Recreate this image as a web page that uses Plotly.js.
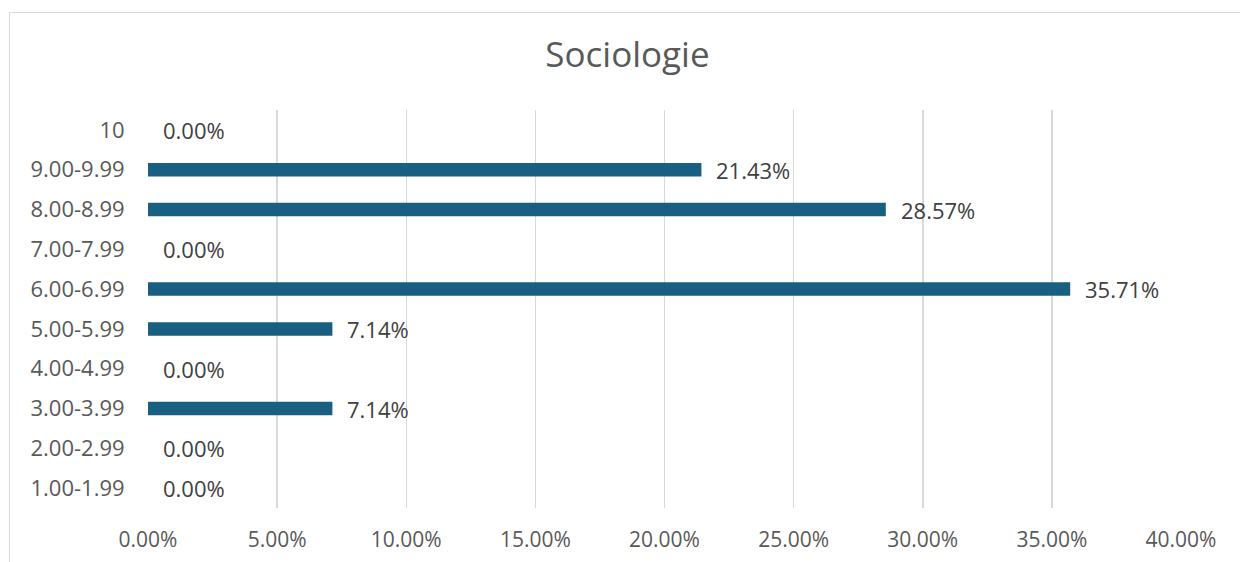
<!DOCTYPE html>
<html>
<head>
<meta charset="utf-8">
<script src="https://cdn.plot.ly/plotly-3.0.1.min.js"></script>
<style>
  html, body { margin: 0; padding: 0; background: #ffffff; }
  #wrap { position: relative; width: 1240px; height: 562px; overflow: hidden; }
  #chart { position: absolute; left: 0; top: 0; width: 1240px; height: 562px; }
  #frame { position: absolute; left: 9px; top: 12px; width: 1260px; height: 600px;
           border: 1px solid #d9d9d9; pointer-events: none; }
</style>
</head>
<body>
<div id="wrap">
  <div id="chart"></div>
  <div id="frame"></div>
</div>
<script>
// Data (bottom to top)
const categories = ["1.00-1.99", "2.00-2.99", "3.00-3.99", "4.00-4.99", "5.00-5.99",
                    "6.00-6.99", "7.00-7.99", "8.00-8.99", "9.00-9.99", "10"];
const shares = [0, 0, 0.0714, 0, 0.0714, 0.3571, 0, 0.2857, 0.2143, 0];
const titleText = "Sociologie";

const font = "'Open Sans', 'Liberation Sans', sans-serif";

const trace = {
  type: "bar",
  orientation: "h",
  x: shares,
  y: categories,
  width: 0.34,
  marker: { color: "#185F81", line: { width: 0 } },
  hoverinfo: "x+y"
};

// data labels: placed at each bar's value through the axis scales (category index on y)
const annotations = shares.map((v, i) => ({
  x: v, y: i, xref: "x", yref: "y",
  text: (v * 100).toFixed(2) + "%",
  showarrow: false, xanchor: "left", yanchor: "middle",
  xshift: 13,
  font: { family: font, size: 22, color: "#404040" }
}));

const layout = {
  width: 1240, height: 562,
  margin: { l: 148, r: 59, t: 110, b: 54 },
  paper_bgcolor: "rgba(0,0,0,0)",
  plot_bgcolor: "rgba(0,0,0,0)",
  showlegend: false,
  title: {
    text: titleText,
    x: 0.506, xanchor: "center",
    y: 1 - 55 / 562, yanchor: "middle", yref: "container",
    font: { family: font, size: 35, color: "#595959" }
  },
  xaxis: {
    range: [0, 0.4],
    dtick: 0.05, tick0: 0,
    tickformat: ".2%",
    showgrid: true, gridcolor: "#d9d9d9", gridwidth: 1.5,
    zeroline: false, showline: false,
    ticks: "outside", ticklen: 13, tickcolor: "rgba(0,0,0,0)",
    tickfont: { family: font, size: 21, color: "#595959" },
    fixedrange: true
  },
  yaxis: {
    type: "category",
    categoryorder: "array", categoryarray: categories,
    range: [-0.5, categories.length - 0.5],
    showgrid: false, zeroline: false, showline: false,
    ticks: "outside", ticklen: 18, tickcolor: "rgba(0,0,0,0)",
    tickfont: { family: font, size: 22, color: "#595959" },
    fixedrange: true
  },
  annotations: annotations
};

Plotly.newPlot("chart", [trace], layout, { displayModeBar: false, staticPlot: true });
</script>
</body>
</html>
